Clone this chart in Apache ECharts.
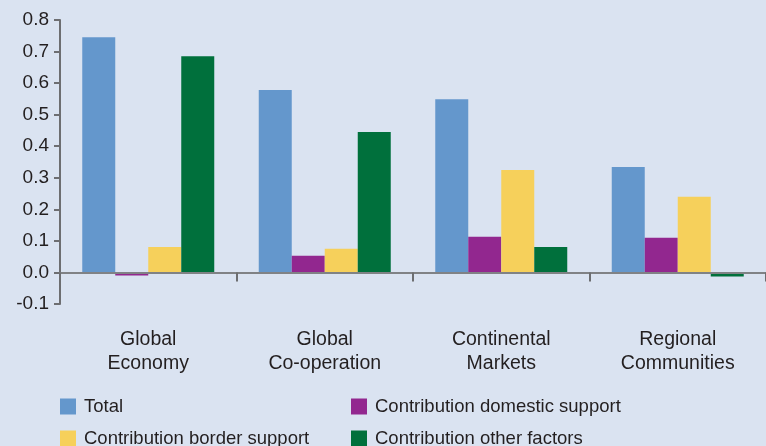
<!DOCTYPE html>
<html>
<head>
<meta charset="utf-8">
<script src="https://cdn.jsdelivr.net/npm/echarts@6/dist/echarts.min.js"></script>
<style>
html,body{margin:0;padding:0;background:#dae3f1;}
#c{width:766px;height:446px;}
</style>
</head>
<body>
<div id="c"></div>
<script>
var categories = ['Global\nEconomy', 'Global\nCo-operation', 'Continental\nMarkets', 'Regional\nCommunities'];
var seriesNames = ['Total', 'Contribution domestic support', 'Contribution border support', 'Contribution other factors'];
var total = [0.745, 0.578, 0.549, 0.334];
var domestic = [-0.010, 0.053, 0.113, 0.110];
var border = [0.081, 0.075, 0.325, 0.240];
var other = [0.685, 0.445, 0.081, -0.013];
var yTicks = [-0.1, 0.8, 0.1];

var colors = ['#6497cc', '#92278f', '#f6d05b', '#00703c'];
var font = 'Liberation Sans, Arial, sans-serif';
var chart = echarts.init(document.getElementById('c'), null, {renderer: 'canvas'});
var values = [total, domestic, border, other];
var series = seriesNames.map(function (n, i) {
  return {
    name: n, type: 'bar', data: values[i], barWidth: 33, barGap: '0%',
    itemStyle: {color: colors[i]}, z: 1
  };
});
var legendPos = [[60, 397], [351, 397], [60, 429], [351, 429]];
var legends = seriesNames.map(function (n, i) {
  return {
    data: [n], left: legendPos[i][0], top: legendPos[i][1], padding: 0,
    itemWidth: 16, itemHeight: 16, icon: 'rect',
    textStyle: {fontFamily: font, fontSize: 18.5, color: '#231f20', padding: [0, 0, 0, 3]}
  };
});
chart.setOption({
  backgroundColor: '#dae3f1',
  animation: false,
  grid: {left: 60, right: -6, top: 20, bottom: 142, containLabel: false},
  legend: legends,
  xAxis: {
    type: 'category', data: categories,
    axisLine: {onZero: true, lineStyle: {color: '#808285', width: 2}},
    axisTick: {show: true, length: 9, lineStyle: {color: '#6d6e71', width: 2}},
    axisLabel: {fontFamily: font, fontSize: 19.5, color: '#231f20', margin: 24, lineHeight: 24},
    z: 5
  },
  yAxis: {
    type: 'value', min: yTicks[0], max: yTicks[1], interval: yTicks[2],
    splitLine: {show: false},
    axisLine: {show: true, lineStyle: {color: '#6d6e71', width: 2}},
    axisTick: {show: true, length: 6, lineStyle: {color: '#6d6e71', width: 2}},
    axisLabel: {fontFamily: font, fontSize: 19, color: '#231f20', margin: 11,
      formatter: function (v) { return (Math.round(v * 10) / 10).toFixed(1); }}
  },
  series: series
});
</script>
</body>
</html>
